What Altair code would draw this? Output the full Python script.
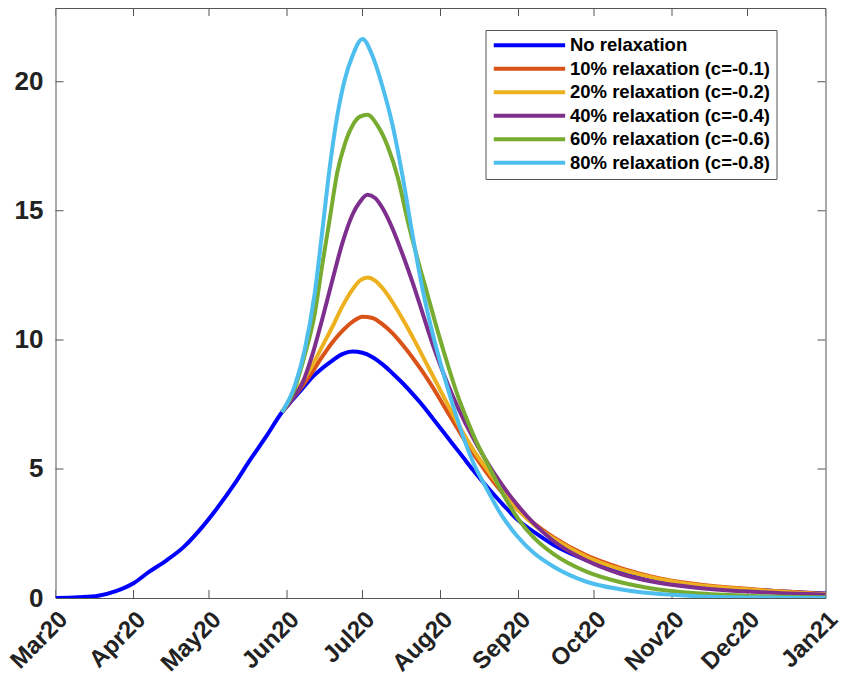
import altair as alt
import pandas as pd

# ---------------- data (x = days after 1 Mar 2020) ----------------
series_names = [
    "No relaxation",
    "10% relaxation (c=-0.1)",
    "20% relaxation (c=-0.2)",
    "40% relaxation (c=-0.4)",
    "60% relaxation (c=-0.6)",
    "80% relaxation (c=-0.8)",
]
series_colors = ["#0000FF", "#D95319", "#EDB120", "#7E2F8E", "#77AC30", "#4DBEEE"]

blue_days = [0, 9, 17, 24, 31, 37, 44, 51, 57, 64, 71, 77, 84, 90, 94, 98, 102, 106,
             110, 114, 118, 122, 126, 130, 134, 138, 142, 146, 150, 154, 158, 162,
             166, 172, 178, 184, 191, 198, 211, 225, 237, 255, 277, 306]
blue_values = [0.00, 0.03, 0.09, 0.27, 0.57, 1.00, 1.45, 1.98, 2.60, 3.45, 4.40, 5.30,
               6.30, 7.20, 7.65, 8.10, 8.55, 8.90, 9.20, 9.45, 9.55, 9.50, 9.33, 9.05,
               8.70, 8.32, 7.90, 7.45, 6.95, 6.45, 5.95, 5.45, 4.95, 4.25, 3.60, 3.00,
               2.50, 2.05, 1.47, 1.05, 0.78, 0.50, 0.32, 0.17]

orange_days = [90, 94, 98, 102, 106, 110, 114, 118, 122, 126, 130, 134, 138, 142, 146,
               150, 154, 158, 162, 166, 171, 177, 184, 190, 198, 211, 225, 237, 255,
               277, 306]
orange_values = [7.20, 7.70, 8.20, 8.75, 9.35, 9.90, 10.35, 10.70, 10.90, 10.85, 10.60,
                 10.25, 9.80, 9.30, 8.75, 8.15, 7.50, 6.85, 6.20, 5.60, 4.90, 4.15,
                 3.40, 2.90, 2.35, 1.65, 1.15, 0.83, 0.53, 0.34, 0.16]

yellow_days = [90, 94, 98, 102, 106, 110, 114, 118, 121, 124, 127, 130, 134, 138, 142,
               146, 150, 154, 158, 162, 166, 171, 177, 184, 190, 198, 211, 225, 237,
               255, 277, 306]
yellow_values = [7.20, 7.75, 8.35, 9.00, 9.75, 10.50, 11.30, 11.95, 12.30, 12.42, 12.30,
                 12.00, 11.45, 10.80, 10.10, 9.35, 8.60, 7.85, 7.10, 6.40, 5.75, 5.05,
                 4.25, 3.40, 2.85, 2.30, 1.60, 1.10, 0.80, 0.50, 0.32, 0.15]

purple_days = [90, 94, 98, 102, 106, 110, 114, 118, 121, 124, 127, 130, 134, 138, 142,
               146, 150, 154, 158, 162, 166, 171, 177, 184, 190, 198, 211, 225, 237,
               255, 277, 306]
purple_values = [7.20, 7.70, 8.30, 9.40, 10.80, 12.30, 13.75, 14.85, 15.35, 15.62, 15.50,
                 15.10, 14.30, 13.30, 12.20, 11.00, 9.80, 8.75, 7.80, 6.95, 6.20, 5.35,
                 4.45, 3.55, 2.90, 2.20, 1.45, 0.92, 0.64, 0.40, 0.24, 0.13]

green_days = [90, 95, 99, 103, 106, 109, 112, 115, 118, 121, 124, 128, 132, 136, 140,
              144, 148, 152, 156, 160, 164, 168, 172, 178, 184, 190, 198, 211, 225,
              237, 255, 277, 306]
green_values = [7.20, 8.10, 9.40, 11.00, 12.90, 14.70, 16.50, 17.60, 18.30, 18.65,
                18.72, 18.30, 17.50, 16.30, 14.60, 13.10, 11.70, 10.30, 9.00, 7.80,
                6.80, 5.90, 5.15, 4.00, 3.05, 2.35, 1.70, 1.02, 0.60, 0.37, 0.18,
                0.08, 0.03]

cyan_days = [90, 95, 99, 103, 106, 109, 112, 115, 118, 122, 126, 130, 134, 138, 142,
             146, 150, 154, 158, 162, 166, 171, 177, 183, 190, 198, 211, 225, 237,
             255, 277, 306]
cyan_values = [7.20, 8.20, 9.60, 11.80, 14.20, 16.70, 18.70, 20.10, 21.00, 21.66, 21.00,
               19.80, 18.30, 16.30, 14.00, 11.90, 10.20, 8.75, 7.45, 6.25, 5.25, 4.30,
               3.25, 2.45, 1.75, 1.21, 0.63, 0.33, 0.18, 0.07, 0.02, 0.00]

x_tick_dates = ["2020-03-01", "2020-04-01", "2020-05-01", "2020-06-01", "2020-07-01",
                "2020-08-01", "2020-09-01", "2020-10-01", "2020-11-01", "2020-12-01",
                "2021-01-01"]
y_tick_values = [0, 5, 10, 15, 20]
y_max = 22.86

# ---------------- tables ----------------
start = pd.Timestamp("2020-03-01", tz="UTC")


def day_to_iso(d):
    return (start + pd.Timedelta(days=d)).strftime("%Y-%m-%dT%H:%M:%SZ")


all_days = [blue_days, orange_days, yellow_days, purple_days, green_days, cyan_days]
all_values = [blue_values, orange_values, yellow_values, purple_values, green_values, cyan_values]
rows = []
for name, ds, vs in zip(series_names, all_days, all_values):
    for d, v in zip(ds, vs):
        rows.append({"series": name, "date": day_to_iso(d), "value": v})
df = pd.DataFrame(rows)

xt = pd.DataFrame([{"date": d + "T00:00:00Z", "value": 0.0} for d in x_tick_dates] +
                  [{"date": d + "T00:00:00Z", "value": y_max} for d in x_tick_dates])
yt = pd.DataFrame([{"date": x_tick_dates[0] + "T00:00:00Z", "value": v} for v in y_tick_values] +
                  [{"date": x_tick_dates[-1] + "T00:00:00Z", "value": v} for v in y_tick_values])


def ms(d):
    return int(pd.Timestamp(d, tz="UTC").value // 10**6)


FONT = "Liberation Sans"
AXIS_COLOR = "#555555"

x_scale = alt.Scale(type="utc", domain=[ms(x_tick_dates[0]), ms(x_tick_dates[-1])], nice=False)
y_scale = alt.Scale(domain=[0, y_max], nice=False, zero=True)

x_axis = alt.Axis(values=[ms(d) for d in x_tick_dates], format="%b%y", labelAngle=-45,
                  labelAlign="right", labelBaseline="top", labelPadding=9, labelOffset=-0.5,
                  labelFontSize=24, title=None, labelOverlap=False, labelBound=False,
                  labelFlush=False)
y_axis = alt.Axis(values=y_tick_values, format="d", labelPadding=12.5, title=None,
                  labelBaseline="middle")

X = alt.X("date:T", scale=x_scale, axis=x_axis)
Y = alt.Y("value:Q", scale=y_scale, axis=y_axis)

legend = alt.Legend(
    title=None, orient="none", legendX=430, legendY=22,
    symbolType="M-1,0H9.2", symbolSize=196, symbolStrokeWidth=4,
    labelOffset=60, labelFont=FONT, labelFontSize=18.5, labelFontWeight="bold",
    labelColor="#000000", labelLimit=400, fillColor="white", strokeColor=AXIS_COLOR,
    padding=6, rowPadding=4.5, cornerRadius=0,
)
color_scale = alt.Scale(domain=series_names, range=series_colors)

layers = []
for name in series_names:
    layers.append(
        alt.Chart(df)
        .transform_filter(alt.datum.series == name)
        .mark_line(strokeWidth=4, interpolate="monotone", clip=True)
        .encode(x=X, y=Y, color=alt.Color("series:N", scale=color_scale, legend=legend))
    )

xticks = alt.Chart(xt).mark_tick(orient="vertical", size=16, thickness=1,
                                 color=AXIS_COLOR, clip=True, opacity=1).encode(x=X, y=Y)
yticks = alt.Chart(yt).mark_tick(orient="horizontal", size=16, thickness=1,
                                 color=AXIS_COLOR, clip=True, opacity=1).encode(x=X, y=Y)

chart = (
    alt.layer(xticks, yticks, *layers)
    .properties(
        width=770, height=590,
        autosize=alt.AutoSizeParams(type="none"),
        padding={"left": 47.5, "top": 0, "right": 13, "bottom": 85},
        background="white",
    )
    .configure_view(stroke=AXIS_COLOR, strokeWidth=1)
    .configure_axis(labelFont=FONT, labelFontWeight="bold", labelFontSize=26,
                    labelColor="#222222", domain=False, ticks=False, grid=False)
)

chart.save("out.html", embed_options={"renderer": "svg", "actions": False})
